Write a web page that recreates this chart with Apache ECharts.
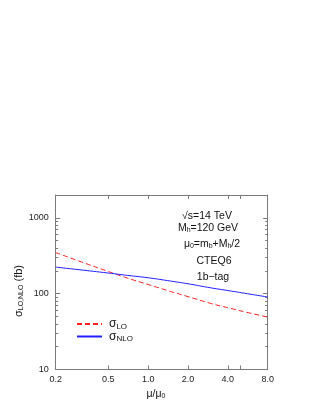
<!DOCTYPE html>
<html><head><meta charset="utf-8">
<script src="https://cdn.jsdelivr.net/npm/echarts@6/dist/echarts.min.js"></script>
<style>html,body{margin:0;padding:0;background:#fff}#c{width:323px;height:418px}</style>
</head><body><div id="c"></div>
<script>
// ---- data ----
const muValues = [0.2, 0.3, 0.5, 0.7, 1.0, 1.5, 2.0, 3.0, 4.0, 6.0, 8.0];
const sigmaLO  = [348, 269, 196, 160, 132, 106, 91.4, 74, 65.3, 55, 49.1];
const sigmaNLO = [224, 207, 187, 174, 162, 146, 135, 119, 110, 98, 90.3];
const xTickLabels = [0.2, 0.5, 1.0, 2.0, 4.0, 8.0];
const xTickMarks  = [0.2, 0.5, 1.0, 2.0, 4.0, 5.0, 8.0];
const yTickLabels = [10, 100, 1000];
const yMinorTicks = [20,30,40,50,60,70,80,90,200,300,400,500,600,700,800,900];
const xRange = [0.2, 8.0];
const yRange = [10, 2000];

const lx = v => Math.log10(v);
const FONT = 'Liberation Sans';
const FRAME = '#7a7a7a';

function xAxisDef(pos, showLabels) {
  return {
    type: 'value', position: pos, min: lx(xRange[0]), max: lx(xRange[1]),
    axisLine: {show: true, onZero: false, lineStyle: {color: FRAME, width: 1}},
    splitLine: {show: false},
    axisTick: {show: true, inside: true, length: 4, lineStyle: {color: FRAME}, customValues: xTickMarks.map(lx)},
    axisLabel: {show: showLabels, customValues: xTickLabels.map(lx), margin: 6,
      fontFamily: FONT, fontSize: 9, color: '#222',
      formatter: v => Math.pow(10, v).toFixed(1)}
  };
}
function yAxisDef(pos, minor, showLabels) {
  return {
    type: 'value', position: pos, min: lx(yRange[0]), max: lx(yRange[1]),
    axisLine: {show: !minor, onZero: false, lineStyle: {color: FRAME, width: 1}},
    splitLine: {show: false},
    axisTick: {show: true, inside: true, length: minor ? 2.5 : 4.5, lineStyle: {color: FRAME},
      customValues: (minor ? yMinorTicks : yTickLabels).map(lx)},
    axisLabel: {show: showLabels, customValues: yTickLabels.map(lx), margin: 7,
      fontFamily: FONT, fontSize: 9, color: '#222',
      formatter: v => String(Math.round(Math.pow(10, v)))}
  };
}

const subRich = {
  m: {fontFamily: FONT, fontSize: 12, color: '#111'},
  s: {fontFamily: FONT, fontSize: 8, color: '#111', padding: [5, 0, 0, 0]}
};

const option = {
  animation: false,
  backgroundColor: '#fff',
  grid: {left: 55.7, right: 55.3, top: 195, bottom: 48.5, containLabel: false},
  xAxis: [xAxisDef('bottom', true), xAxisDef('top', false)],
  yAxis: [yAxisDef('left', false, true), yAxisDef('left', true, false),
          yAxisDef('right', false, false), yAxisDef('right', true, false)],
  legend: {
    orient: 'vertical', left: 71, top: 313, itemWidth: 25, itemHeight: 10, itemGap: 0,
    itemStyle: {color: 'rgba(0,0,0,0)', borderWidth: 0},
    data: ['σ_LO', 'σ_NLO'],
    formatter: n => n === 'σ_LO' ? '{m|σ}{s|LO}' : '{m|σ}{s|NLO}',
    textStyle: {rich: subRich, padding: [0,0,0,2]}
  },
  series: [
    {name: 'σ_LO', type: 'line', smooth: true, symbol: 'none', showSymbol: false, xAxisIndex: 0, yAxisIndex: 0,
     lineStyle: {color: '#ff2020', width: 1, type: [5, 3]}, itemStyle: {color: '#ff2020'},
     data: muValues.map((m, i) => [lx(m), lx(sigmaLO[i])])},
    {name: 'σ_NLO', type: 'line', smooth: true, symbol: 'none', showSymbol: false, xAxisIndex: 0, yAxisIndex: 0,
     lineStyle: {color: '#2020ff', width: 1}, itemStyle: {color: '#2020ff'},
     data: muValues.map((m, i) => [lx(m), lx(sigmaNLO[i])])}
  ],
  graphic: [
    {type: 'text', x: 207, y: 216, style: {text: '√s=14 TeV', font: '10.5px ' + FONT, fill: '#111', align: 'center', verticalAlign: 'middle'}},
    {type: 'text', x: 208, y: 228, style: {text: '{n|M}{s|h}{n|=120 GeV}', align: 'center', verticalAlign: 'middle',
      rich: {n: {fontFamily: FONT, fontSize: 10.5, fill: '#111'}, s: {fontFamily: FONT, fontSize: 7, fill: '#111', padding: [5,0,0,0]}}}},
    {type: 'text', x: 212, y: 244, style: {text: '{n|μ}{s|0}{n|=m}{s|b}{n|+M}{s|h}{n|/2}', align: 'center', verticalAlign: 'middle',
      rich: {n: {fontFamily: FONT, fontSize: 10.5, fill: '#111'}, s: {fontFamily: FONT, fontSize: 7, fill: '#111', padding: [5,0,0,0]}}}},
    {type: 'text', x: 214, y: 261, style: {text: 'CTEQ6', font: '10.5px ' + FONT, fill: '#111', align: 'center', verticalAlign: 'middle'}},
    {type: 'text', x: 213, y: 277, style: {text: '1b−tag', font: '10.5px ' + FONT, fill: '#111', align: 'center', verticalAlign: 'middle'}},
    {type: 'text', x: 156, y: 394, style: {text: '{n|μ/μ}{s|0}', align: 'center', verticalAlign: 'middle',
      rich: {n: {fontFamily: FONT, fontSize: 10.5, fill: '#111'}, s: {fontFamily: FONT, fontSize: 7, fill: '#111', padding: [5,0,0,0]}}}},
    {type: 'text', x: 19, y: 291, rotation: Math.PI / 2, style: {text: '{n|σ}{s|LO,NLO}{n| (fb)}', align: 'center', verticalAlign: 'middle',
      rich: {n: {fontFamily: FONT, fontSize: 11, fill: '#111'}, s: {fontFamily: FONT, fontSize: 7, fill: '#111', padding: [5,0,0,0]}}}}
  ]
};
const chart = echarts.init(document.getElementById('c'), null, {renderer: 'canvas'});
chart.setOption(option);
</script></body></html>
